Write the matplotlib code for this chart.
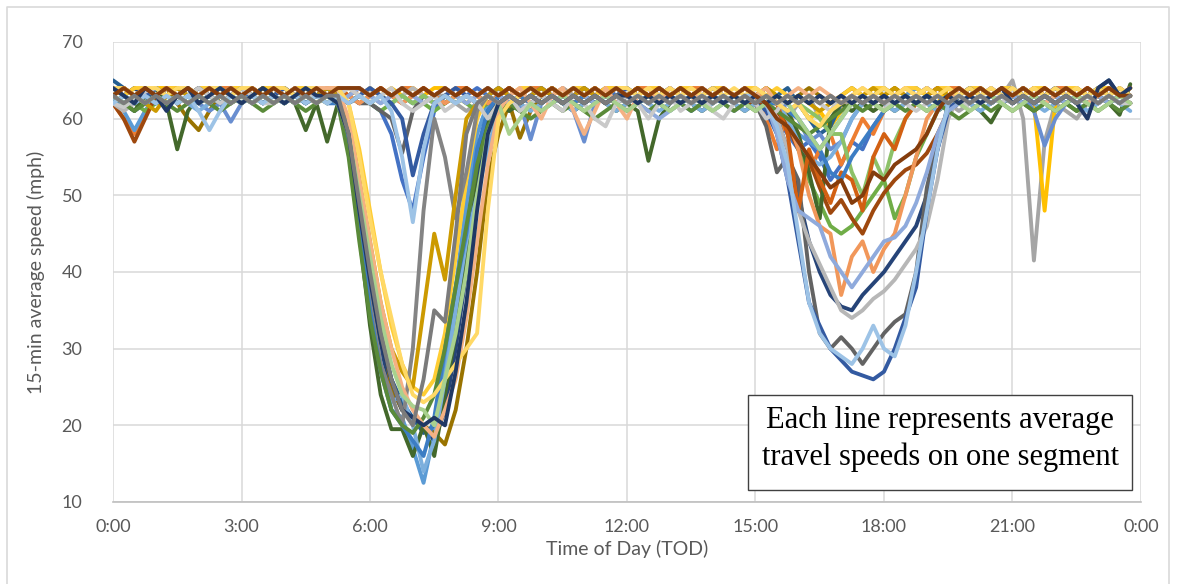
import numpy as np
import matplotlib.pyplot as plt
from matplotlib.patches import Rectangle
from matplotlib.lines import Line2D

# 15-min time slots, 0:00 .. 23:45 (hours)
tod = np.arange(96) * 0.25

# average speeds (mph) per segment, rows = 0-6h, 6-12h, 12-18h, 18-24h
seg01 = [63,62,61,62,63,64,63,62,63,64,63,62,63,63,64,63,62,63,64,63,62,63,62,63,
         62,61,58,52,48,55,61,63,62,63,64,63,62,61,62,63,62,63,62,61,62,63,64,63,
         63,62,63,64,63,62,61,62,63,62,63,64,63,62,60,58,56,57,55,52,54,57,56,59,
         61,62,63,62,63,64,63,62,63,62,63,62,63,64,63,62,63,62,63,64,63,62,63,63]
seg02 = [62,60,58,61,63,64,64,63,64,63,64,64,63,64,63,64,64,63,64,63,64,64,63,64,
         63,64,63,64,64,63,62,63,64,64,63,62,63,64,63,64,64,63,64,63,64,63,64,64,
         63,64,64,63,64,63,64,64,63,64,63,64,63,60,56,61,58,53,56,58,54,57,60,58,
         61,63,64,63,64,63,64,64,63,64,63,64,64,63,64,63,64,64,63,64,63,64,63,64]
seg03 = [63,64,63,62,63,64,63,62,63,64,64,63,62,63,64,63,62,63,63,64,63,62,63,64,
         63,62,63,64,63,62,63,63,62,61,62,63,64,63,62,63,62,63,64,63,62,63,62,63,
         62,63,64,63,62,63,62,61,62,63,62,63,63,61,59,60,62,63,60,59,61,63,62,61,
         62,63,62,63,62,63,62,61,62,63,62,63,65,60,41.5,57,62,61,60,62,63,62,61,62]
seg04 = [64,63,64,63,64,64,63,64,63,64,63,64,64,63,64,63,64,63,64,63,64,63,64,63,
         64,63,64,63,64,63,64,64,63,62,63,64,63,64,63,62,63,64,63,64,63,62,63,64,
         63,64,63,62,63,64,63,62,63,64,63,62,63,64,62,61,62,60,61,59,61,62,63,64,
         63,64,63,64,63,62,64,63,64,63,62,63,64,63,62,48,62,63,64,63,64,63,64,63]
seg05 = [63,61,58.5,61,63,64,63,62,63,62,63,64,63,62,63,64,63,62,63,64,63,63,57,47,
         39,30,22,21,17,12.5,19,28,38,49,58,62,63,62,61,62,63,64,63,62,63,62,63,62,
         63,62,63,64,63,62,63,62,63,64,63,62,63,62,61,60,58,57,56,58,60,62,63,62,
         63,62,63,64,63,62,63,62,63,64,63,62,63,64,63,62,63,62,63,62,63,64,63,62]
seg06 = [62,63,62,61,62,63,62,63,62,63,62,63,62,63,62,63,62,63,62,63,62,63,62,63,
         62,61,62,63,62,62,61,62,63,62,61,62,63,62,63,62,63,62,63,62,63,62,63,62,
         63,62,63,62,63,62,63,62,63,62,63,62,63,62,62,60,56,52,49,46,45,46,48,50,
         52,47,50,55,58,61,62,63,62,63,62,63,62,63,62,63,62,63,62,63,62,63,62,63]
seg07 = [64,63,64,63,62,63,64,63,62,63,64,63,62,63,64,63,62,63,64,63,63,62,57,47,
         38,30,25,22,21,20,18,22,30,40,52,60,63,62,63,62,63,62,63,62,63,62,63,62,
         63,62,63,62,63,62,63,62,63,62,63,62,63,62,60,56,50,44,40,37,35.5,35,37,38.5,
         40,42,44,46,50,56,62,63,62,63,62,63,62,63,62,63,62,63,62,63,62,63,62,63]
seg08 = [62,60,57,60,63,64,63,62,63,64,63,62,63,64,63,62,63,64,63,62,63,64,63,62,
         63,64,63,62,63,64,63,62,63,64,63,62,63,64,63,62,63,64,63,62,63,64,63,62,
         63,64,63,62,63,64,63,62,63,64,63,62,62,62,61,59,56,54.6,51,47.7,49.4,47,45,48,
         50.3,52,53.3,54,55.5,58,61,63,62,63,64,63,62,63,64,63,62,63,64,63,62,63,64,63]
seg09 = [63,62,63,64,63,62,63,62,63,64,63,62,63,62,63,62,63,62,63,62,63,62,63,62,
         62,61,60,55.5,61,63,62,63,62,63,62,63,62,63,62,63,62,63,62,63,62,63,62,63,
         62,63,62,63,62,63,62,63,62,63,62,63,62,59,53,55,52,40,32,30,31.5,30,28,30,
         32,33.5,34.5,40,51,57,61,62,63,62,63,62,63,62,63,62,63,62,63,62,63,62,63,62]
seg10 = [63,64,63,62,63,64,62,60,58.5,61,63,64,63,62,63,64,63,62,63,64,63,63,60,52,
         42,33,25,22,21,20,19,17.5,22,30,40,52,58,62,57.5,61,63,64,63,62,63,64,63,62,
         63,64,63,62,63,64,63,62,63,64,63,62,63,64,63,62,63,64,63,62,63,64,63,62,
         63,64,63,62,63,64,63,62,63,64,63,62,63,64,63,62,63,64,63,62,63,64,63,62]
seg11 = [65,64,63,62,64,63,62,63,64,63,62,63,64,63,62,63,64,63,62,63,64,63,58,49,
         40,32,26,23,21,19,20,24,33,44,55,61,63,64,63,62,63,64,63,62,63,62,63,64,
         63,62,63,64,63,62,63,64,63,62,63,64,63,62,63,64,62,60,58,59,62,63,62,63,
         64,63,62,63,64,63,62,63,64,63,62,63,64,63,62,63,64,63,62,63,64,65,63,64]
seg12 = [63,62,61,63,64,62,56,61,63,62,63,62,63,64,63,62,63,62,58.5,62,57,62,56,45,
         33,24,19.5,19.5,16,20,16,24,32,42,54,60,62,61,62,63,62,63,62,61,62,63,62,61,
         62,61,54.5,60,62,63,62,61,62,63,62,61,62,63,62,61,58,53,47,60,62,61,62,61,
         62,61,62,63,62,61,62,63,62,61,59.5,62,63,62,61,62,63,62,61,62,63,62,60.5,64.5]
seg13 = [62,63,62,63,62,63,62,63,62,61,62,59.6,62,63,62,63,62,63,62,63,62,63,62,63,
         62,63,62,63,62,63,62,63,62,63,62,63,62,63,62,57.3,62,63,62,61,57,62,63,62,
         63,62,63,62,63,62,63,62,63,62,61,62,63,62,61,62,60,57,58,56,57,60,62,63,
         62,63,62,63,62,63,62,63,62,63,62,63,62,63,61,56.5,60,62,63,62,63,62,63,62]
seg14 = [63,64,63,62,63,64,63,62,63,64,63,62,63,64,63,62,63,64,63,62,63,64,63,62,
         63,64,63,62,63,64,63,62,63,64,63,62,63,64,63,62,63,64,63,62,63,64,63,62,
         63,64,63,62,63,64,63,62,63,64,63,62,63,63,62,60,56,50,46,45,37,42,44,40,
         43,45,50,55,60,62,63,64,63,62,63,64,63,62,63,64,63,62,63,64,63,62,63,64]
seg15 = [62,61,62,63,64,63,62,63,64,63,62,63,64,63,62,63,64,63,62,63,64,63,62,63,
         64,63,62,63,64,63,62,63,64,63,62,63,64,63,62,63,64,63,62,63,64,63,62,63,
         64,63,62,63,64,63,62,63,64,63,62,63,64,63,60,56,48,44,41,38,35,34,35,36.5,
         37.5,39,41,43,46,52,60,63,62,63,64,63,62,63,64,63,62,63,64,63,62,63,64,63]
seg16 = [64,63,64,64,63,64,64,63,64,64,63,64,64,63,64,64,63,64,64,63,64,64,62,56,
         48,40,33,28,25,24,26,32,42,52,60,63,64,63,64,64,63,64,63,64,64,63,64,64,
         64,63,64,64,63,64,64,63,64,64,63,64,64,63,64,63,62,60,61,62,63,64,63,64,
         64,63,64,64,63,64,64,63,64,64,63,64,64,63,64,64,63,64,64,63,64,64,63,64]
seg17 = [63,62,63,62,63,62,63,62,61,62,63,62,63,62,63,62,63,62,63,62,63,62,56,46,
         36,28,23,24,20,14,18,26,35,44,50,56,61,63,62,61,62,63,62,61,62,63,62,61,
         62,63,62,61,62,63,62,61,62,63,62,61,62,63,62,60,57,55,54,55,57,60,62,63,
         62,61,62,63,62,61,62,63,62,61,62,63,62,63,62,61,62,63,62,61,62,63,62,61]
seg18 = [62,63,62,63,62,63,62,63,62,63,62,63,62,63,62,63,62,63,62,63,62,63,62,63,
         62,63,62,63,62,63,62,63,62,63,62,63,62,63,62,63,62,63,62,63,62,63,62,63,
         62,63,62,63,62,63,62,63,62,63,62,63,62,63,62,63,62,61,60,58,58,53,50,55,
         52,57,60,62,63,62,63,62,63,62,63,62,63,62,63,62,63,62,63,62,63,62,63,62]
seg19 = [64,63,62,63,64,63,62,63,64,63,62,63,64,63,62,63,64,63,62,63,64,63,62,63,
         64,63,62,60,52.6,58,62,63,64,63,62,63,64,63,62,63,64,63,62,63,64,63,62,63,
         64,63,62,63,64,63,62,63,64,63,62,63,62,61,58,52,44,36,33,30,28.5,27,26.5,26,
         27,30,34,38,48,56,61,63,64,63,62,63,64,63,62,63,64,63,62,63,64,63,62,63]
seg20 = [63,64,63,64,63,64,63,64,63,64,63,64,63,64,63,64,63,64,63,64,63,64,63,64,
         63,64,63,64,63,64,63,64,63,64,63,64,63,64,63,64,63,64,63,64,63,64,63,64,
         63,64,63,64,63,64,63,64,63,64,63,64,63,62,62,58,48,56,52,49,53,52,48,55,
         58,56,60,62,63,64,63,64,63,64,63,64,63,64,63,64,63,64,63,64,63,64,63,64]
seg21 = [63,62,63,62,63,62,63,62,63,62,63,62,63,62,63,62,63,62,63,62,63,63,56,46,
         36,28,24,20,30,48,60,55,47,53,61,63,62,63,62,63,62,63,62,63,62,63,62,63,
         62,63,62,63,62,63,62,63,62,63,62,63,62,63,62,63,62,63,62,63,62,63,62,63,
         62,63,62,63,62,63,62,63,62,63,62,63,62,63,62,63,62,63,62,63,62,63,62,63]
seg22 = [63,64,63,62,61,63,64,63,62,63,64,63,62,63,64,63,62,63,64,63,64,63,60,52,
         44,36,30,27,25,35,45,39,50,60,62,63,64,63,62,63,64,63,62,63,64,63,62,63,
         63,64,63,62,63,64,63,62,63,64,63,62,63,64,63,62,63,62,61,62,63,62,63,64,
         63,64,63,62,63,64,63,62,63,64,63,62,63,64,63,62,63,64,63,62,63,64,63,62]
seg23 = [62,63,62,63,62,63,62,63,62,63,62,63,62,63,62,63,62,63,62,63,62,62,57,46,
         35,27,22,20,18,16,21,30,38,45,56,61,63,62,63,62,63,62,63,62,63,62,63,62,
         63,62,63,62,63,62,63,62,63,62,63,62,63,62,62,61,60,58,56,53,52,55,57,59,
         61,62,63,62,63,62,63,62,63,62,63,62,63,62,63,62,63,62,63,62,63,62,63,62]
seg24 = [63,62,61,62,63,62,61,62,63,62,61,62,63,62,61,62,63,62,61,62,63,62,55,44,
         34,27,22,20,19,21,24,30,38,46,54,59,61,62,61,60,61,62,61,62,61,60,61,62,
         61,62,61,62,61,62,61,62,61,62,61,62,61,62,61,60,59,58,59,60,61,62,61,62,
         61,62,61,62,61,62,61,60,61,62,61,62,61,62,61,62,61,62,61,62,61,62,61,62]
seg25 = [63,62,63,64,63,62,63,64,63,62,63,64,63,62,63,64,63,62,63,64,63,62,63,64,
         63,62,63,64,63,62,63,64,63,62,63,64,63,62,63,64,63,62,63,64,63,62,63,64,
         63,62,61,60,61,62,63,62,61,62,63,62,63,62,58,52,48,47,46,42,40,38,40,42,
         44,44.5,46,49,53,58,61,62,63,62,63,62,63,62,63,62,63,62,63,62,63,62,63,62]
seg26 = [63,64,63,64,63,64,63,64,63,64,63,64,63,64,63,64,63,64,63,64,64,64,60,52,
         44,36,30,25,22,20,18.5,22,26,34,44,54,61,63,64,62,60,63,64,61,58,61,64,62,
         60,63,64,62,64,63,62,64,63,64,63,64,63,64,62,63,64,63,64,63,62,63,64,63,
         62,63,64,63,64,63,62,64,63,64,63,64,63,64,63,62,63,64,63,62,63,64,63,62]
seg27 = [62,61.5,62.5,63.5,64,63,62,63,64,63,62,63,64,63,62,62,63,64,63,63,62,63,64,63,
         62,63,64,62,61,62,63,61,62,63,62,60,62,63,61,62,63,62,61,63,62,60,59,62,
         63,62,60,62,63,61,62,63,61,60,62,63,62,60,61,63,62,63,62,61,63,62,63,62,
         61,63,62,61,62,63,62,63,61,62,63,62,64,63,62,63,62,63,62,63,62,63,62,62]
seg28 = [64,64,63,64,64,63,64,64,63,64,64,63,64,64,63,64,64,63,64,64,63,64,62,55,
         47,40,34,28,24,23,24,26,28,30,32,48,60,62,63,64,63,64,63,64,63,64,63,64,
         64,63,64,63,64,63,64,63,64,63,64,63,64,63,62,61,62,60,59,61,62,63,64,63,
         64,63,64,63,64,63,64,63,64,63,64,63,64,63,64,63,64,63,64,63,64,63,64,63]
seg29 = [62,63,62,63,62,63,62,63,61,58.5,61,63,62,63,62,63,62,63,62,63,62,63,62,63,
         62,63,61,55,46.5,56,62,63,62,63,62,63,62,63,62,63,62,63,62,63,62,63,62,63,
         62,63,62,63,62,63,62,63,62,63,62,63,63,62,59,54,45,36,32,30,29,28,30,33,
         30,29,33,40,48,56,62,63,62,63,62,63,62,63,62,63,62,63,62,63,62,63,62,63]
seg30 = [63,62,63,62,63,62,63,62,63,62,63,62,63,62,63,62,63,62,63,62,63,62,58,50,
         42,34,28,24,22.5,22,20,26,32,40,50,58,62,58,60,62,61,62,63,62,61,62,63,62,
         61,62,63,62,61,62,63,62,61,62,63,62,61,62,63,62,60,58,56,58,60,62,63,62,
         61,62,63,62,61,62,63,62,61,62,63,62,61,62,63,62,61,62,63,62,61,62,63,62]
seg31 = [64,63,62,64,63,61,63,64,62,63,64,63,62,63,64,63,62,63,64,63,63,62,58,48,
         39,31,26,22,21,20,21,20,27,36,48,58,62,63,62,63,62,63,62,63,62,63,62,63,
         63,62,63,62,63,62,63,62,63,62,63,62,63,62,63,62,63,62,63,62,63,62,63,62,
         63,62,63,62,63,62,63,62,63,62,63,64,62,63,62,63,62,63,62,60,64,65,63,64]
seg32 = [63,64,63,64,63,64,63,64,63,64,63,64,63,64,63,64,63,64,63,64,63,64,64,64,
         63,64,63,64,63,64,63,64,63,64,63,64,63,64,63,64,63,64,63,64,63,64,63,64,
         63,64,63,64,63,64,63,64,63,64,63,64,63,62,60,59,57,55,53,51,52,49,50,53,
         52,54,55,56,58,61,63,64,63,64,63,64,63,64,63,64,63,64,63,64,63,64,63,63]
seg33 = [63,62,63,62,63,62,63,62,63,62,63,62,63,62,63,62,63,62,63,62,63,63,58,49,
         40,32,26,22,20,26,35,33.5,45,58,62,63,62,63,62,63,62,63,62,63,62,63,62,63,
         62,63,62,63,62,63,62,63,62,63,62,63,62,63,62,63,62,63,62,63,62,63,62,63,
         62,63,62,63,62,63,62,63,62,63,62,63,62,63,62,63,62,63,62,63,62,63,62,63]

segments = [seg01, seg02, seg03, seg04, seg05, seg06, seg07, seg08, seg09, seg10,
            seg11, seg12, seg13, seg14, seg15, seg16, seg17, seg18, seg19, seg20,
            seg21, seg22, seg23, seg24, seg25, seg26, seg27, seg28, seg29, seg30,
            seg31, seg32, seg33]
colors = ['#4472C4', '#ED7D31', '#A5A5A5', '#FFC000', '#5B9BD5', '#70AD47',
          '#264478', '#9E480E', '#636363', '#997300', '#255E91', '#43682B',
          '#698ED0', '#F1975A', '#B7B7B7', '#FFCD33', '#7CAFDD', '#8CC168',
          '#335AA1', '#D26012', '#848484', '#CC9A00', '#3C7DC4', '#5A8A39',
          '#8FAADC', '#F4B183', '#C9C9C9', '#FFD966', '#9DC3E6', '#A9D18E',
          '#203864', '#843C0C', '#7B7B7B']

xticks = [0, 3, 6, 9, 12, 15, 18, 21, 24]
xlabels = ['0:00', '3:00', '6:00', '9:00', '12:00', '15:00', '18:00', '21:00', '0:00']
yticks = [10, 20, 30, 40, 50, 60, 70]

W, H = 1177, 584
fig = plt.figure(figsize=(W / 100, H / 100), dpi=100)
ax = fig.add_axes([113 / W, 1 - 502 / H, (1141 - 113) / W, (502 - 42) / H])

for s, c in zip(segments, colors):
    assert len(s) == 96
    ax.plot(tod, s, color=c, lw=2.8, solid_joinstyle='round', solid_capstyle='round')

ax.set_xlim(0, 24)
ax.set_ylim(10, 70)
ax.set_xticks(xticks)
ax.set_xticklabels(xlabels)
ax.set_yticks(yticks)
ax.grid(True, color='#D9D9D9', lw=1.1)
ax.set_axisbelow(True)
for side in ['top', 'right', 'left']:
    ax.spines[side].set_visible(False)
ax.spines['bottom'].set_color('#BFBFBF')
ax.spines['bottom'].set_linewidth(1.2)
ax.tick_params(length=0, colors='#595959', labelsize=13, pad=12)
for lab in ax.get_xticklabels() + ax.get_yticklabels():
    lab.set_family('Lato')
ax.tick_params(axis='y', pad=22)

ax.set_xlabel('Time of Day (TOD)', fontsize=14, color='#595959', family='Lato', labelpad=4)
ax.set_ylabel('15-min average speed (mph)', fontsize=14, color='#595959', family='Lato', labelpad=12)

# note box
fig.patches.append(Rectangle((748 / W, 1 - 490 / H), (1132 - 748) / W, 95 / H,
                             transform=fig.transFigure, facecolor='white',
                             edgecolor='#404040', lw=1, zorder=5))
fig.text(940 / W, 1 - 439 / H, 'Each line represents average\ntravel speeds on one segment',
         ha='center', va='center', fontsize=22, family='Liberation Serif',
         linespacing=1.3, zorder=6)

# chart border
fig.add_artist(Line2D([7 / W, 7 / W, 1169 / W, 1169 / W], [0, 1 - 7 / H, 1 - 7 / H, 0],
                      transform=fig.transFigure, color='#D9D9D9', lw=1.2))

fig.savefig('out.png', dpi=100)
